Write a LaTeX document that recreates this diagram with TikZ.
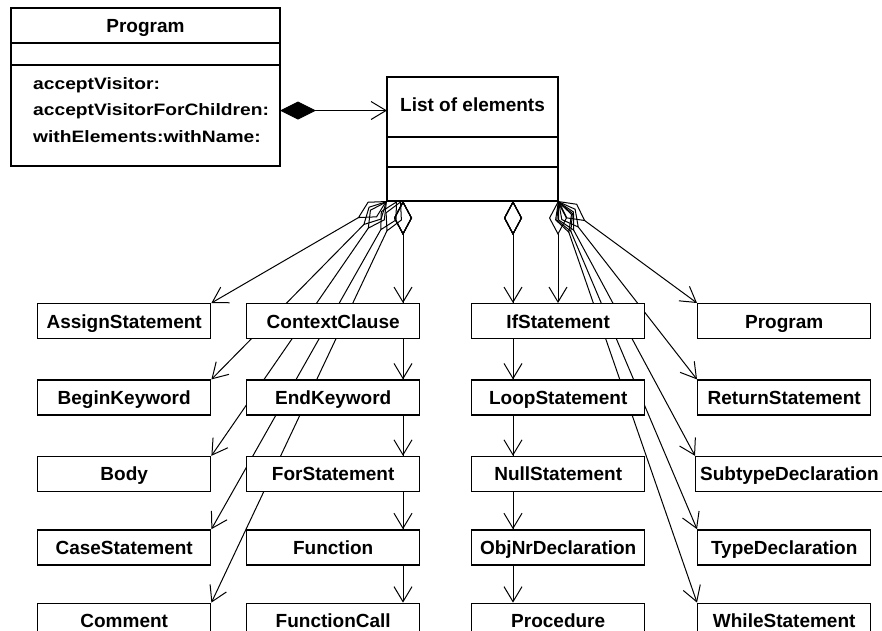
\documentclass[tikz,border=0pt]{standalone}
\usepackage{fontspec}
\setmainfont{Liberation Sans}
\usetikzlibrary{positioning,calc,arrows.meta,backgrounds}

\newcommand\boxfont{\fontsize{19}{22}\selectfont\bfseries}
\newcommand\opfont{\fontsize{16.5}{19}\selectfont\bfseries}

\tikzset{
	elem/.style={draw, line width=1.4pt, fill=white, minimum width=173pt, minimum height=35pt,
		inner xsep=4.5pt, inner ysep=0pt, text height=13.7pt, text depth=0pt, font=\boxfont},
	part/.style={draw, line width=1.4pt, fill=white, inner sep=0pt, outer sep=0pt},
	method/.style={anchor=base west, inner sep=0pt, font=\opfont},
	agg/.style={line width=1pt, {Diamond[open,length=34pt,width=18pt]}-{Straight Barb[length=15pt,width=18pt]}},
	comp/.style={line width=1pt, {Diamond[length=36pt,width=18pt]}-{Straight Barb[length=15pt,width=18pt]}}
}

\begin{document}
\begin{tikzpicture}[x=1pt, y=-1pt]
	\useasboundingbox (0,0) rectangle (882,630);

	% class Program
	\node[part, elem, anchor=north west, minimum width=269pt] (progtitle) at (11,8) {Program};
	\node[part, minimum width=269pt, minimum height=22pt, below=0pt of progtitle] (progattr) {};
	\node[part, minimum width=269pt, minimum height=101pt, below=0pt of progattr] (progops) {};
	\node[method] (m1) at (33,89) {\scalebox{1.165}[1]{acceptVisitor:}};
	\node[method] (m2) at (33,115.5) {\scalebox{1.165}[1]{acceptVisitorForChildren:}};
	\node[method] (m3) at (33,142) {\scalebox{1.165}[1]{withElements:withName:}};

	% class List of elements
	\node[part, elem, anchor=north west, minimum width=171pt, minimum height=60pt, text depth=5pt] (listtitle) at (387,77) {List of elements};
	\node[part, minimum width=171pt, minimum height=30pt, below=0pt of listtitle] (listattr) {};
	\node[part, minimum width=171pt, minimum height=34pt, below=0pt of listattr] (listops) {};

	\draw[comp] ([yshift=5pt]progops.east) -- ([yshift=5pt]progops.east -| listtitle.west);

	% element classes
	\node[elem, anchor=north west] (assign) at (37,303) {AssignStatement};
	\node[elem, below=40pt of assign] (begin) {BeginKeyword};
	\node[elem, below=40pt of begin] (body) {Body};
	\node[elem, below=37pt of body] (case) {CaseStatement};
	\node[elem, below=37pt of case] (comment) {Comment};

	\node[elem, anchor=north west] (ctx) at (246,303) {ContextClause};
	\node[elem, below=40pt of ctx] (endkw) {EndKeyword};
	\node[elem, below=40pt of endkw] (forst) {ForStatement};
	\node[elem, below=37pt of forst] (func) {Function};
	\node[elem, below=37pt of func] (fcall) {FunctionCall};

	\node[elem, anchor=north west] (ifst) at (471,303) {IfStatement};
	\node[elem, below=40pt of ifst] (loop) {LoopStatement};
	\node[elem, below=40pt of loop] (null) {NullStatement};
	\node[elem, below=37pt of null] (objnr) {ObjNrDeclaration};
	\node[elem, below=37pt of objnr] (proc) {Procedure};

	\node[elem, anchor=north west] (prog) at (697,303) {Program};
	\node[elem, below=40pt of prog] (ret) {ReturnStatement};
	\node[elem, below=40pt of ret.south west, anchor=north west, xshift=-2pt] (subtype) {SubtypeDeclaration};
	\node[elem, below=37pt of subtype.south west, anchor=north west, xshift=2pt] (typedecl) {TypeDeclaration};
	\node[elem, below=37pt of typedecl] (while) {WhileStatement};

	% aggregation links, behind the boxes
	\begin{scope}[on background layer]
		\coordinate (midroot) at ([xshift=16pt]listops.south west);
		\coordinate (ifroot) at ([xshift=126pt]listops.south west);

		\draw[agg] (listops.south west) -- (assign.north east);
		\draw[agg] (listops.south west) -- (begin.north east);
		\draw[agg] (listops.south west) -- (body.north east);
		\draw[agg] ([xshift=10pt]listops.south west) -- (case.north east);
		\draw[agg] ([xshift=14pt]listops.south west) -- (comment.north east);

		\draw[agg] (midroot) -- (midroot |- ctx.north);
		\draw[agg] (midroot) -- (midroot |- endkw.north);
		\draw[agg] (midroot) -- (midroot |- forst.north);
		\draw[agg] (midroot) -- (midroot |- func.north);
		\draw[agg] (midroot) -- (midroot |- fcall.north);

		\draw[agg] (ifroot) -- (ifroot |- ifst.north);
		\draw[agg] (ifroot) -- (ifroot |- loop.north);
		\draw[agg] (ifroot) -- (ifroot |- null.north);
		\draw[agg] (ifroot) -- (ifroot |- objnr.north);
		\draw[agg] (ifroot) -- (ifroot |- proc.north);

		\draw[agg] (listops.south east) -- (listops.south east |- ifst.north);
		\draw[agg] (listops.south east) -- (prog.north west);
		\draw[agg] (listops.south east) -- (ret.north west);
		\draw[agg] (listops.south east) -- (subtype.north west);
		\draw[agg] (listops.south east) -- (typedecl.north west);
		\draw[agg] (listops.south east) -- (while.north west);
	\end{scope}
\end{tikzpicture}
\end{document}
